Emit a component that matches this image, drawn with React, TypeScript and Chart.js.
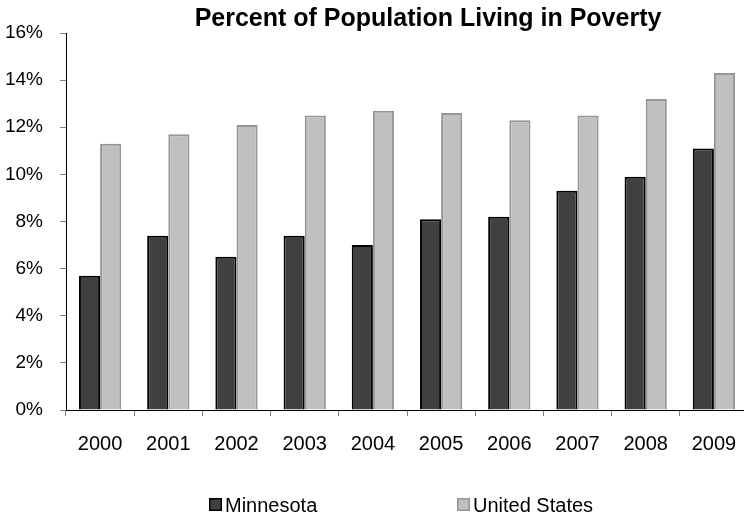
import React, { useEffect, useRef } from "react";
import { Chart, registerables } from "chart.js";

Chart.register(...registerables);

const TITLE = "Percent of Population Living in Poverty";
const YEARS = ["2000", "2001", "2002", "2003", "2004", "2005", "2006", "2007", "2008", "2009"];
const MINNESOTA = [5.7, 7.4, 6.5, 7.4, 7.0, 8.1, 8.2, 9.3, 9.9, 11.1];
const UNITED_STATES = [11.3, 11.7, 12.1, 12.5, 12.7, 12.6, 12.3, 12.5, 13.2, 14.3];
const SERIES_NAMES = ["Minnesota", "United States"];
const Y_MIN = 0;
const Y_MAX = 16;
const Y_STEP = 2;

const FONT = "'Liberation Sans', Arial, Helvetica, sans-serif";

const titlePlugin = {
  id: "customTitle",
  afterDraw(chart: any) {
    const ctx = chart.ctx;
    ctx.save();
    ctx.font = `bold 25px ${FONT}`;
    ctx.fillStyle = "#000";
    ctx.textAlign = "center";
    ctx.textBaseline = "alphabetic";
    ctx.fillText(TITLE, 428, 26);
    ctx.restore();
  },
};

const legendPlugin = {
  id: "customLegend",
  afterDraw(chart: any) {
    const ctx = chart.ctx;
    const area = chart.chartArea;
    const cx = (area.left + area.right) / 2;
    const offsets = [-198, 50];
    ctx.save();
    ctx.font = `20px ${FONT}`;
    ctx.textAlign = "left";
    ctx.textBaseline = "alphabetic";
    chart.data.datasets.forEach((ds: any, i: number) => {
      const x = Math.round(cx + offsets[i]);
      const y = 498;
      ctx.fillStyle = ds.backgroundColor;
      ctx.fillRect(x, y, 13, 13);
      ctx.strokeStyle = ds.borderColor;
      ctx.lineWidth = 1.5;
      ctx.strokeRect(x + 0.75, y + 0.75, 11.5, 11.5);
      ctx.fillStyle = "#000";
      ctx.fillText(ds.label, x + 16, 512);
    });
    ctx.restore();
  },
};

export default function App() {
  const ref = useRef<HTMLCanvasElement>(null);

  useEffect(() => {
    if (!ref.current) return;
    const chart = new Chart(ref.current, {
      type: "bar",
      data: {
        labels: YEARS,
        datasets: [
          {
            label: SERIES_NAMES[0],
            data: MINNESOTA,
            backgroundColor: "#404040",
            borderColor: "#000000",
            borderWidth: 2,
            categoryPercentage: 0.62,
            barPercentage: 1,
          },
          {
            label: SERIES_NAMES[1],
            data: UNITED_STATES,
            backgroundColor: "#c0c0c0",
            borderColor: "#969696",
            borderWidth: 2,
            categoryPercentage: 0.62,
            barPercentage: 1,
          },
        ],
      },
      options: {
        responsive: false,
        animation: false,
        devicePixelRatio: 1,
        layout: { padding: { top: 33, right: 12, bottom: 43, left: 0 } },
        plugins: {
          legend: { display: false },
          title: { display: false },
          tooltip: { enabled: false },
        },
        scales: {
          x: {
            grid: {
              display: true,
              drawOnChartArea: false,
              drawTicks: true,
              tickLength: 6,
              color: "#808080",
              offset: true,
            },
            border: { display: true, color: "#000000", width: 1 },
            ticks: {
              color: "#000",
              padding: 16,
              font: { family: FONT, size: 20 },
              maxRotation: 0,
              autoSkip: false,
            },
          },
          y: {
            min: Y_MIN,
            max: Y_MAX,
            afterFit(scale: any) {
              scale.width = 66;
            },
            grid: {
              display: true,
              drawOnChartArea: false,
              drawTicks: true,
              tickLength: 6,
              color: "#808080",
            },
            border: { display: true, color: "#000000", width: 1 },
            ticks: {
              stepSize: Y_STEP,
              color: "#000",
              padding: 17,
              font: { family: FONT, size: 19 },
              callback: (v: any) => `${v}%`,
            },
          },
        },
      },
      plugins: [titlePlugin, legendPlugin],
    });
    return () => chart.destroy();
  }, []);

  return (
    <div
      style={{
        position: "absolute",
        left: 0,
        top: 0,
        width: 744,
        height: 515,
        overflow: "hidden",
        background: "#fff",
      }}
    >
      <canvas ref={ref} width={760} height={515} style={{ display: "block" }} />
    </div>
  );
}
